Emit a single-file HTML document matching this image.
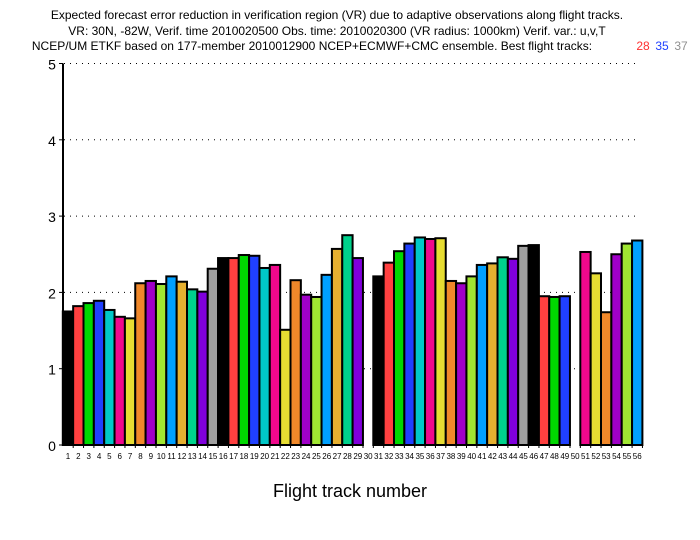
<!DOCTYPE html>
<html><head><meta charset="utf-8"><style>
body{margin:0;background:#fff;width:700px;height:540px;overflow:hidden}
svg{display:block;font-family:"Liberation Sans",sans-serif}
</style></head><body>
<svg id="chart" width="700" height="540" viewBox="0 0 700 540">
<g font-size="12" text-anchor="middle" fill="#000">
<text x="337" y="19">Expected forecast error reduction in verification region (VR) due to adaptive observations along flight tracks.</text>
<text x="337" y="35">VR: 30N, -82W, Verif. time 2010020500 Obs. time: 2010020300 (VR radius: 1000km)  Verif. var.: u,v,T</text>
<text x="312" y="50">NCEP/UM ETKF based on 177-member 2010012900 NCEP+ECMWF+CMC ensemble. Best flight tracks:</text>
<text x="643" y="50" fill="#ff3030">28</text>
<text x="662" y="50" fill="#2040ff">35</text>
<text x="681" y="50" fill="#909090">37</text>
</g>
<g id="grid"></g><g id="bars"></g><g id="axes"></g>
<text x="350" y="497" font-size="18" text-anchor="middle">Flight track number</text>
</svg>
<script>
const tracks=[1,2,3,4,5,6,7,8,9,10,11,12,13,14,15,16,17,18,19,20,21,22,23,24,25,26,27,28,29,31,32,33,34,35,36,37,38,39,40,41,42,43,44,45,46,47,48,49,51,52,53,54,55,56];
const values=[1.75,1.82,1.86,1.89,1.77,1.68,1.66,2.12,2.15,2.11,2.21,2.14,2.04,2.01,2.31,2.45,2.45,2.49,2.48,2.32,2.36,1.51,2.16,1.97,1.94,2.23,2.57,2.75,2.45,2.21,2.39,2.54,2.64,2.72,2.70,2.71,2.15,2.12,2.21,2.36,2.38,2.46,2.44,2.61,2.62,1.95,1.94,1.95,2.53,2.25,1.74,2.50,2.64,2.68];
const yTicks=[0,1,2,3,4,5];
const xLabels=[];for(let i=1;i<=56;i++)xLabels.push(i);
const colors=["#000000","#ff4040","#00d800","#2040ff","#00c8c8","#f0088c","#e6dc32","#f0882a","#a000c8","#a0e632","#00a0ff","#e6b030","#00d28c","#8000dc","#a0a0a0"];
const NS="http://www.w3.org/2000/svg";
const y0=445,unit=76.3,slot=10.35,c1=68;
const Y=v=>y0-v*unit;
const X=i=>c1+(i-1)*slot;
function mk(t,a,p){const e=document.createElementNS(NS,t);for(const k in a)e.setAttribute(k,a[k]);p.appendChild(e);return e;}
const grid=document.getElementById('grid'),bars=document.getElementById('bars'),axes=document.getElementById('axes');
yTicks.forEach(v=>{
 if(v>0){const g=mk('line',{x1:64,x2:640,y1:Y(v),y2:Y(v),stroke:'#000','stroke-width':1,'stroke-dasharray':'1 5'},grid);
 
 }
 const t=mk('text',{x:52,y:Y(v)+6,'font-size':14,'text-anchor':'middle'},axes);t.textContent=v;
 
 
 const tk=mk('line',{x1:59,x2:63,y1:Y(v),y2:Y(v),stroke:'#000','stroke-width':1},axes);
 
 
});
tracks.forEach((tr,k)=>{
 const x=X(tr)-5.2,w=slot,y=Y(values[k]);
 const r=mk('rect',{x:x,y:y,width:w,height:y0-y,fill:colors[(tr-1)%15],stroke:'#000','stroke-width':2},bars);
 
 
});
mk('line',{x1:63,x2:63,y1:Y(5),y2:y0+1,stroke:'#000','stroke-width':2},axes);
xLabels.forEach(i=>{
 const tk=mk('line',{x1:X(i)+5.2,x2:X(i)+5.2,y1:y0,y2:y0+3,stroke:'#000'},axes);
 
 
 const t=mk('text',{x:X(i),y:y0+14,'font-size':8,'text-anchor':'middle'},axes);t.textContent=i;
 
 
});
</script>
</body></html>
